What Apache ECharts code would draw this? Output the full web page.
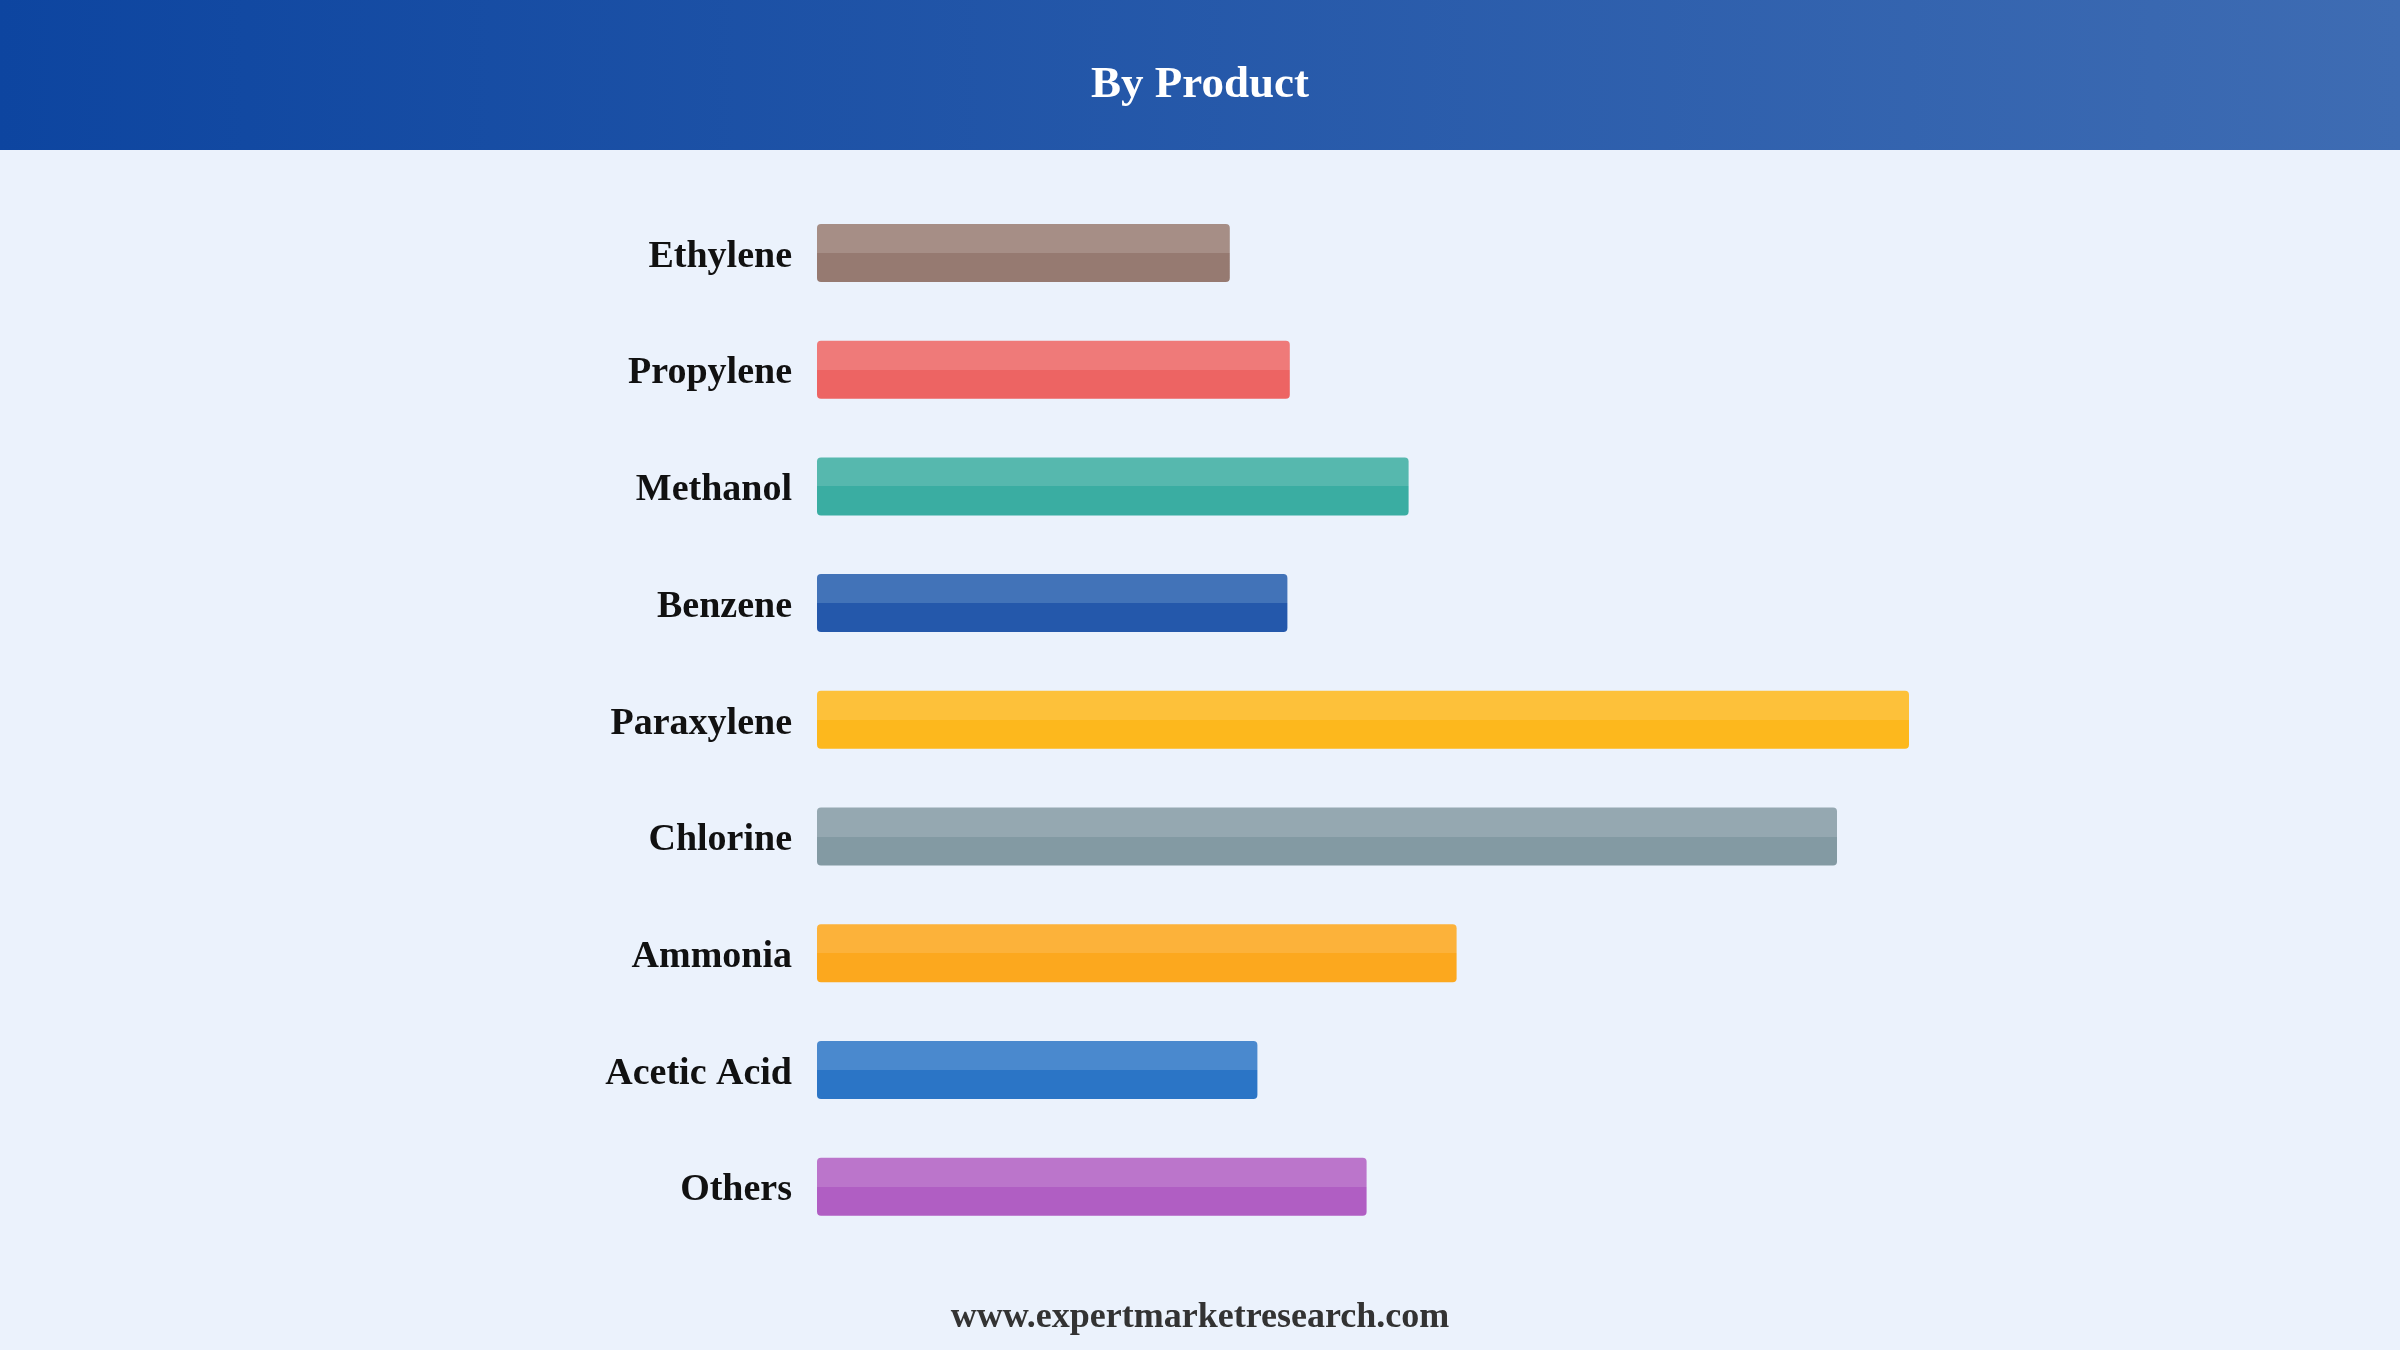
<!DOCTYPE html>
<html>
<head>
<meta charset="utf-8">
<script src="https://cdn.jsdelivr.net/npm/echarts@6/dist/echarts.min.js"></script>
<style>
html,body{margin:0;padding:0;background:#ebf2fc;}
#chart{width:2400px;height:1350px;}
</style>
</head>
<body>
<div id="chart"></div>
<script>
const categories = ['Ethylene','Propylene','Methanol','Benzene','Paraxylene','Chlorine','Ammonia','Acetic Acid','Others'];
const values = [34.4, 39.4, 49.3, 39.2, 91.0, 85.0, 53.3, 36.7, 45.8];
const topColors = ['#a68e86','#ef7a79','#56b8ae','#4273b8','#fdc13a','#95a8b1','#fcb23a','#4a89ce','#bb75cb'];
const bottomColors = ['#967a71','#ed6463','#3aada2','#2458ab','#fdb81d','#839aa3','#fca81e','#2b75c6','#b05ec3'];
const titleText = 'By Product';
const footerText = 'www.expertmarketresearch.com';

const chart = echarts.init(document.getElementById('chart'), null, {renderer:'canvas', width:2400, height:1350});

const data = values.map((v, i) => ({
  value: v,
  itemStyle: {
    color: new echarts.graphic.LinearGradient(0, 0, 0, 1, [
      {offset: 0, color: topColors[i]},
      {offset: 0.5, color: topColors[i]},
      {offset: 0.5, color: bottomColors[i]},
      {offset: 1, color: bottomColors[i]}
    ]),
    borderRadius: 4
  }
}));

chart.setOption({
  backgroundColor: '#ebf2fc',
  animation: false,
  graphic: [
    {
      type: 'rect', z: 0, silent: true,
      shape: {x: 0, y: 0, width: 2400, height: 150},
      style: {
        fill: new echarts.graphic.LinearGradient(0, 0, 1, 0, [
          {offset: 0, color: '#0d45a0'},
          {offset: 1, color: '#3e6cb3'}
        ])
      }
    },
    {
      type: 'text', z: 10, silent: true,
      left: 'center', top: 1300,
      style: {
        text: footerText,
        fill: '#333333',
        font: 'bold 36px "Liberation Serif", "Times New Roman", serif'
      }
    }
  ],
  title: {
    text: titleText,
    left: 'center',
    top: 58,
    textStyle: {
      color: '#ffffff',
      fontFamily: '"Liberation Serif", "Times New Roman", serif',
      fontWeight: 'bold',
      fontSize: 45
    },
    z: 10
  },
  grid: {left: 817, top: 194.6, width: 1200, height: 1050.4, containLabel: false},
  xAxis: {
    type: 'value', min: 0, max: 100,
    show: false
  },
  yAxis: {
    type: 'category',
    data: categories,
    inverse: true,
    axisLine: {show: false},
    axisTick: {show: false},
    splitLine: {show: false},
    axisLabel: {
      margin: 25,
      verticalAlign: 'top',
      lineHeight: 8,
      color: '#111111',
      fontFamily: '"Liberation Serif", "Times New Roman", serif',
      fontWeight: 'bold',
      fontSize: 38
    }
  },
  series: [{
    type: 'bar',
    data: data,
    barWidth: 58
  }]
});
</script>
</body>
</html>
